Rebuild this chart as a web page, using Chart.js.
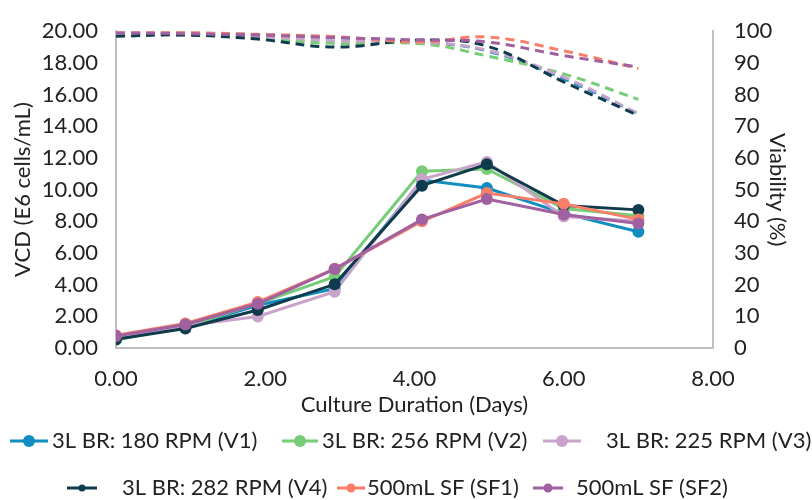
<!DOCTYPE html>
<html>
<head>
<meta charset="utf-8">
<script src="https://cdn.jsdelivr.net/npm/chart.js@4.4.1/dist/chart.umd.min.js"></script>
<style>
  html, body { margin: 0; padding: 0; background: #fff; }
  #wrap { width: 812px; height: 500px; }
</style>
</head>
<body>
<div id="wrap"><canvas id="chart" width="812" height="500"></canvas></div>
<script>
// culture day of each sample
const DAYS = [0, 0.93, 1.9, 2.93, 4.1, 4.97, 6.0, 7.0];

const SERIES = [
  '3L BR: 180 RPM (V1)',
  '3L BR: 256 RPM (V2)',
  '3L BR: 225 RPM (V3)',
  '3L BR: 282 RPM (V4)',
  '500mL SF (SF1)',
  '500mL SF (SF2)',
];

// VCD, E6 cells/mL
const vcdV1 = [0.6, 1.3, 2.7, 3.75, 10.6, 10.1, 8.5, 7.34];
const vcdV2 = [0.5, 1.35, 2.8, 4.5, 11.16, 11.3, 8.8, 8.35];
const vcdV3 = [0.65, 1.4, 1.99, 3.55, 10.65, 11.75, 8.3, 8.0];
const vcdV4 = [0.55, 1.23, 2.4, 4.02, 10.25, 11.6, 9.0, 8.72];
const vcdSF1 = [0.8, 1.55, 2.9, 5.0, 8.0, 9.78, 9.1, 8.12];
const vcdSF2 = [0.75, 1.48, 2.79, 4.98, 8.12, 9.4, 8.43, 7.86];

// viability, %
const viaV1 = [99.3, 99.4, 98.9, 98.0, 96.6, 93.8, 85.0, 73.9];
const viaV2 = [98.8, 99.2, 97.7, 96.2, 96.0, 92.2, 86.5, 78.5];
const viaV3 = [99.0, 98.8, 98.3, 97.0, 96.5, 94.0, 85.5, 74.0];
const viaV4 = [98.4, 98.8, 97.5, 95.0, 97.2, 95.3, 84.0, 73.4];
const viaSF1 = [99.8, 99.6, 99.0, 98.3, 96.6, 98.2, 93.8, 88.2];
const viaSF2 = [99.5, 99.2, 98.8, 98.0, 97.2, 96.6, 92.3, 88.7];

const X_TICKS = [0, 2, 4, 6, 8];

const COLORS = ['#128dbf', '#77cc77', '#caa3ca', '#0f3b4c', '#fa7f68', '#a1609f'];
const VCD = [vcdV1, vcdV2, vcdV3, vcdV4, vcdSF1, vcdSF2];
const VIA = [viaV1, viaV2, viaV3, viaV4, viaSF1, viaSF2];

const pts = (vals) => vals.map((v, i) => ({ x: DAYS[i], y: v }));

const datasets = [];
SERIES.forEach((name, i) => {
  datasets.push({
    label: name,
    data: pts(VCD[i]),
    yAxisID: 'y',
    borderColor: COLORS[i],
    backgroundColor: COLORS[i],
    pointBackgroundColor: COLORS[i],
    pointBorderColor: COLORS[i],
    borderWidth: 3,
    pointRadius: 6,
    pointBorderWidth: 0,
    tension: 0,
    order: 6 - i,
  });
});
SERIES.forEach((name, i) => {
  datasets.push({
    label: name + ' viability',
    data: pts(VIA[i]),
    yAxisID: 'y1',
    borderColor: COLORS[i],
    borderWidth: 3,
    borderDash: [9, 6],
    pointRadius: 0,
    tension: 0.4,
    order: 20 - i,
  });
});

// legend layout (marker start, marker end, dot radius, text x, row y)
const LEGEND_POS = [
  [10, 48, 6, 52, 441],
  [282, 318, 6, 322, 441],
  [543, 581, 6, 606, 441],
  [67, 97, 3.5, 122, 488],
  [337, 365, 4.5, 367, 488],
  [533, 563, 4.5, 576, 488],
];

const excelLegend = {
  id: 'excelLegend',
  afterDraw(chart) {
    const ctx = chart.ctx;
    ctx.save();
    ctx.font = '22px Lato';
    ctx.textBaseline = 'middle';
    ctx.textAlign = 'left';
    SERIES.forEach((name, i) => {
      const [x0, x1, r, tx, y] = LEGEND_POS[i];
      ctx.strokeStyle = COLORS[i];
      ctx.lineWidth = 3;
      ctx.beginPath();
      ctx.moveTo(x0, y);
      ctx.lineTo(x1, y);
      ctx.stroke();
      ctx.fillStyle = COLORS[i];
      ctx.beginPath();
      ctx.arc((x0 + x1) / 2, y, r, 0, Math.PI * 2);
      ctx.fill();
      ctx.fillStyle = '#222';
      ctx.fillText(name, tx, y);
    });
    ctx.restore();
  },
};

const tickFont = { family: 'Lato', size: 22 };
const AXIS = '#bfbfbf';

new Chart(document.getElementById('chart'), {
  type: 'line',
  data: { datasets },
  plugins: [excelLegend],
  options: {
    responsive: false,
    animation: false,
    layout: { padding: { top: 22, bottom: 78, left: 10, right: 22 } },
    plugins: { legend: { display: false }, tooltip: { enabled: false } },
    scales: {
      x: {
        type: 'linear',
        min: 0,
        max: 8,
        afterFit: (s) => { s.height = 74; },
        afterBuildTicks: (s) => { s.ticks = X_TICKS.map((v) => ({ value: v })); },
        grid: { display: false, drawTicks: false },
        border: { color: AXIS, width: 2 },
        ticks: { font: tickFont, color: '#222', padding: 18, callback: (v) => v.toFixed(2) },
        title: { display: true, text: 'Culture Duration (Days)', font: tickFont, color: '#222', padding: { top: 0 } },
      },
      y: {
        position: 'left',
        min: 0,
        max: 20,
        afterFit: (s) => { s.width = 106; },
        grid: { display: false, drawTicks: false },
        border: { color: AXIS, width: 2 },
        ticks: { stepSize: 2, font: tickFont, color: '#222', padding: 18, callback: (v) => v.toFixed(2) },
        title: { display: true, text: 'VCD (E6 cells/mL)', font: tickFont, color: '#222', padding: 0 },
      },
      y1: {
        position: 'right',
        min: 0,
        max: 100,
        afterFit: (s) => { s.width = 77; },
        grid: { display: false, drawOnChartArea: false, drawTicks: true, tickLength: 7, color: AXIS, tickWidth: 2 },
        border: { color: AXIS, width: 2 },
        ticks: { stepSize: 10, font: tickFont, color: '#222', padding: 14 },
        title: { display: true, text: 'Viability (%)', font: tickFont, color: '#222', padding: 0 },
      },
    },
  },
});
</script>
</body>
</html>
